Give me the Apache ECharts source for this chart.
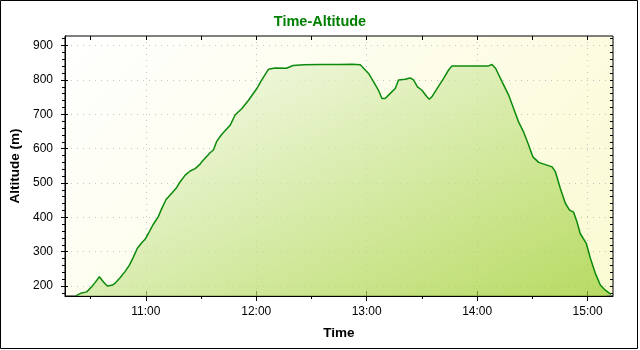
<!DOCTYPE html>
<html>
<head>
<meta charset="utf-8">
<script src="https://cdn.jsdelivr.net/npm/echarts@6/dist/echarts.min.js"></script>
<style>
html,body{margin:0;padding:0;background:#fff;}
#chart{width:640px;height:350px;}
</style>
</head>
<body>
<div id="chart"></div>
<script>
// Time in minutes after midnight
var times = [622.1,625.2,627.9,630.6,632.4,634.8,637.0,639.1,641.5,643.3,
  646.0,648.7,651.1,653.3,655.4,657.8,659.6,661.4,664.1,666.8,
  668.7,671.0,674.1,676.8,678.6,681.4,684.1,686.8,689.5,690.4,
  693.2,694.9,696.7,698.6,701.3,705.8,708.5,712.2,715.8,720.3,
  723.0,726.6,727.6,730.4,736.4,740.0,746.0,755.0,765.0,772.0,
  776.5,778.3,781.0,783.7,786.4,788.3,790.0,792.8,795.5,797.3,
  800.9,803.6,805.4,807.6,810.0,812.7,814.0,815.4,818.2,821.7,
  824.5,826.3,838.0,846.2,848.0,850.0,853.5,857.1,859.8,862.5,
  865.2,868.0,870.3,873.4,877.9,880.7,882.5,885.2,887.9,890.2,
  892.4,894.2,896.0,899.3,901.5,904.2,906.9,909.6,912.7];
var altitudes = [172,180,183,198,210,227,212,200,202,208,
  224,242,261,285,310,326,336,353,380,402,
  426,452,470,487,503,523,535,542,555,562,
  578,588,596,622,642,668,698,717,741,775,
  800,831,835,835,834,842,844,845,845,846,
  844,834,819,795,770,746,746,761,775,800,
  802,806,800,780,770,751,744,751,775,804,
  829,841,841,841,845,834,795,756,717,678,
  649,610,576,560,552,547,533,484,441,421,
  415,387,353,324,281,237,203,188,176];
var xTickLabels = [660,720,780,840,900];          // 11:00 .. 15:00
var xMinorTicks = [630,660,690,720,750,780,810,840,870,900];
var yTickLabels = [200,300,400,500,600,700,800,900];
var yMinorTicks = [];
for (var v = 180; v <= 920; v += 20) yMinorTicks.push(v);

var X_MIN = 616.1, X_MAX = 913.8, Y_MIN = 171, Y_MAX = 928;

function fmtTime(m){
  var h = Math.floor(m/60), mm = Math.round(m - h*60);
  return h + ':' + (mm < 10 ? '0' : '') + mm;
}

var data = times.map(function(t,i){ return [t, altitudes[i]]; });

var chart = echarts.init(document.getElementById('chart'), null, {renderer:'canvas'});

var gridL = 65, gridT = 36, gridR = 27, gridB = 54;
var W = 640 - gridL - gridR, H = 350 - gridT - gridB;
var d = (W + H) / 2;
// angle-scaled 45deg gradient: isolines parallel to the bottom-left/top-right diagonal
var s = 2 * W * H / (W * W + H * H);
var gx2 = gridL + s * H, gy2 = gridT + s * W;

var hidden = {show:false};
function xAx(extra){
  return Object.assign({type:'value', min:X_MIN, max:X_MAX, gridIndex:0,
    axisLine:hidden, axisLabel:hidden, splitLine:hidden, axisTick:hidden}, extra);
}
function yAx(extra){
  return Object.assign({type:'value', min:Y_MIN, max:Y_MAX, gridIndex:0,
    axisLine:hidden, axisLabel:hidden, splitLine:hidden, axisTick:hidden}, extra);
}

chart.setOption({
  animation:false,
  backgroundColor:'#ffffff',
  title:{
    text:'Time-Altitude', left:'center', top:9,
    textStyle:{color:'#008000', fontSize:14.5, fontWeight:'bold', fontFamily:'Liberation Sans, Arial, sans-serif'}
  },
  graphic:[{
    type:'rect', shape:{x:0.5, y:0.5, width:637, height:348},
    style:{fill:'none', stroke:'#000', lineWidth:1}, z:100, silent:true
  }],
  grid:{
    left:gridL, top:gridT, right:gridR, bottom:gridB,
    show:true, borderColor:'#000', borderWidth:1,
    backgroundColor:{type:'linear', x:gridL, y:gridT, x2:gridL+d, y2:gridT+d, global:true,
      colorStops:[{offset:0,color:'#ffffff'},{offset:1,color:'#fafad2'}]}
  },
  xAxis:[
    xAx({position:'bottom', name:'Time', nameLocation:'middle', nameGap:30,
      nameTextStyle:{color:'#000', fontSize:13.5, fontWeight:'bold', fontFamily:'Liberation Sans, Arial, sans-serif'},
      axisLine:{show:true, lineStyle:{color:'#000', width:1}},
      axisTick:{show:true, inside:false, length:5, customValues:xTickLabels, lineStyle:{color:'#000'}},
      axisLabel:{show:true, customValues:xTickLabels, margin:10, color:'#000', fontSize:12,
        fontFamily:'Liberation Sans, Arial, sans-serif', formatter:function(v){return fmtTime(v);}},
      splitLine:{show:true, lineStyle:{color:'#c4c4c4', type:[1,5], width:1}}
    }),
    xAx({position:'bottom', axisTick:{show:true, inside:false, length:3, customValues:xMinorTicks, lineStyle:{color:'#000'}}}),
    xAx({position:'bottom', axisTick:{show:true, inside:true, length:5, customValues:xTickLabels, lineStyle:{color:'#000'}}}),
    xAx({position:'top', axisTick:{show:true, inside:true, length:4, customValues:xMinorTicks, lineStyle:{color:'#000'}}})
  ],
  yAxis:[
    yAx({position:'left', name:'Altitude (m)', nameLocation:'middle', nameGap:43, nameRotate:90,
      nameTextStyle:{color:'#000', fontSize:13.5, fontWeight:'bold', fontFamily:'Liberation Sans, Arial, sans-serif'},
      axisLine:{show:true, lineStyle:{color:'#000', width:1}},
      axisTick:{show:true, inside:false, length:4, customValues:yTickLabels, lineStyle:{color:'#000'}},
      axisLabel:{show:true, customValues:yTickLabels, margin:12, color:'#000', fontSize:12,
        fontFamily:'Liberation Sans, Arial, sans-serif'},
      splitLine:{show:true, lineStyle:{color:'#c4c4c4', type:[1,5], width:1}}
    }),
    yAx({position:'left', axisTick:{show:true, inside:false, length:3, customValues:yMinorTicks, lineStyle:{color:'#000'}}}),
    yAx({position:'left', axisTick:{show:true, inside:true, length:3, customValues:yTickLabels, lineStyle:{color:'#000'}}}),
    yAx({position:'right', axisTick:{show:true, inside:true, length:3, customValues:yMinorTicks, lineStyle:{color:'#000'}}})
  ],
  series:[{
    type:'line', xAxisIndex:0, yAxisIndex:0, data:data,
    showSymbol:false, smooth:false,
    lineStyle:{color:'#0b8a0b', width:1.5},
    areaStyle:{
      origin:'start',
      color:{type:'linear', x:gridL, y:gridT, x2:gx2, y2:gy2, global:true,
        colorStops:[{offset:0,color:'#ffffff'},{offset:1,color:'#9acd32'}]}
    }
  }]
});
</script>
</body>
</html>
